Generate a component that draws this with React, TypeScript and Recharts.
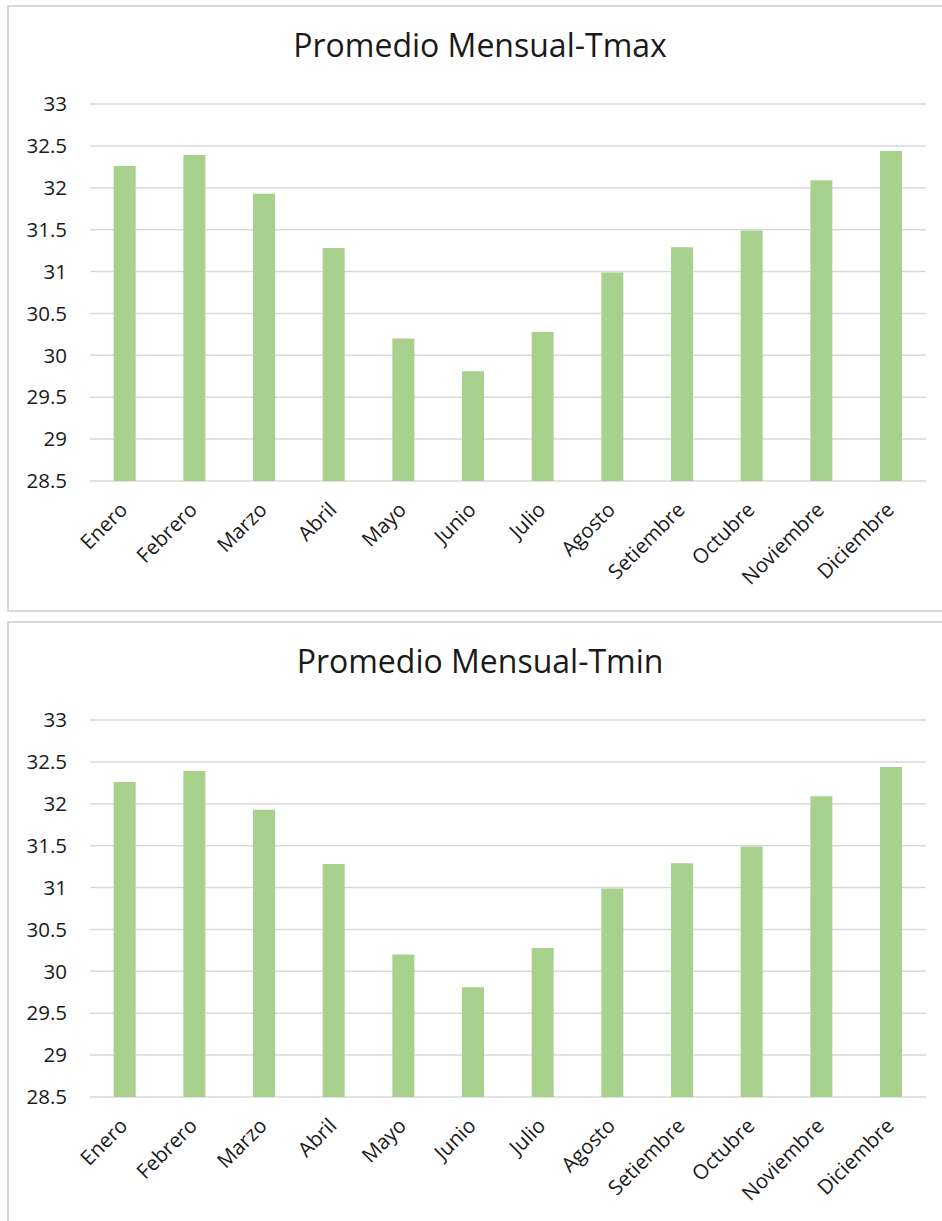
import React from "react"
import { BarChart, Bar, XAxis, YAxis, CartesianGrid } from "recharts"

const months = [
  "Enero", "Febrero", "Marzo", "Abril", "Mayo", "Junio",
  "Julio", "Agosto", "Setiembre", "Octubre", "Noviembre", "Diciembre",
]

const tmax = [32.26, 32.39, 31.93, 31.28, 30.2, 29.81, 30.28, 30.99, 31.29, 31.49, 32.09, 32.44]
const tmin = [32.26, 32.39, 31.93, 31.28, 30.2, 29.81, 30.28, 30.99, 31.29, 31.49, 32.09, 32.44]

const yTicks = [28.5, 29, 29.5, 30, 30.5, 31, 31.5, 32, 32.5, 33]

const FONT = "'Open Sans', sans-serif"
const TEXT = "#1a1a1a"
const GRID = "#d9d9d9"
const BAR = "#a9d18e"

function MonthTick(props: any) {
  const { x, y, payload } = props
  return (
    <g transform={`translate(${x + 4},${y + 30})`}>
      <text
        transform="rotate(-45)"
        textAnchor="end"
        fontSize={20.5}
        fontFamily={FONT}
        fill={TEXT}
      >
        {payload.value}
      </text>
    </g>
  )
}

function MonthlyChart({ title, values, top, last }: {
  title: string
  values: number[]
  top: number
  last?: boolean
}) {
  const data = months.map((m, i) => ({ month: m, value: values[i] }))
  return (
    <div
      style={{
        position: "absolute",
        left: 7,
        top,
        width: 935,
        height: 607,
        boxSizing: "border-box",
        borderTop: `2px solid ${GRID}`,
        borderLeft: `2px solid ${GRID}`,
        borderBottom: last ? "none" : `2px solid ${GRID}`,
        background: "#fff",
      }}
    >
      <div
        style={{
          position: "absolute",
          left: 0,
          top: 22,
          width: 942,
          textAlign: "center",
          fontFamily: FONT,
          fontSize: 32,
          lineHeight: "32px",
          color: TEXT,
          whiteSpace: "nowrap",
        }}
      >
        {title}
      </div>
      <BarChart
        width={933}
        height={603}
        data={data}
        margin={{ top: 97, right: 16, bottom: 0, left: 0 }}
        barCategoryGap="34%"
      >
        <CartesianGrid vertical={false} stroke={GRID} strokeWidth={1.5} />
        <XAxis
          dataKey="month"
          height={129}
          axisLine={false}
          tickLine={false}
          tickSize={0}
          tickMargin={0}
          interval={0}
          tick={<MonthTick />}
        />
        <YAxis
          width={81}
          domain={[28.5, 33]}
          ticks={yTicks}
          allowDataOverflow
          axisLine={false}
          tickLine={false}
          tickSize={0}
          tickMargin={23}
          tick={{ fill: TEXT, fontSize: 20.5, fontFamily: FONT }}
        />
        <Bar dataKey="value" fill={BAR} isAnimationActive={false} />
      </BarChart>
    </div>
  )
}

export default function App() {
  return (
    <div
      style={{
        position: "absolute",
        left: 0,
        top: 0,
        width: 942,
        height: 1221,
        overflow: "hidden",
        background: "#fff",
      }}
    >
      <MonthlyChart title="Promedio Mensual-Tmax" values={tmax} top={5} />
      <MonthlyChart title="Promedio Mensual-Tmin" values={tmin} top={621} last />
    </div>
  )
}
